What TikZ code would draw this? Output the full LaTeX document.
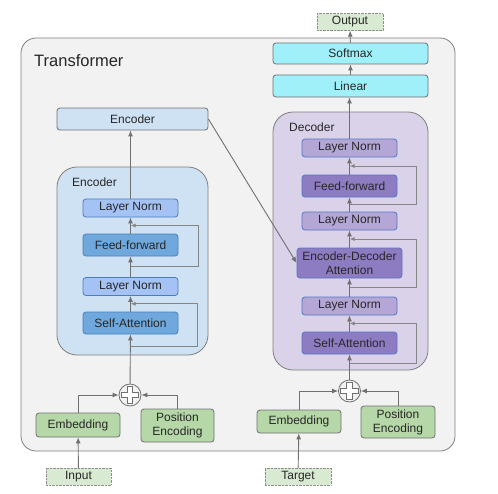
\documentclass[tikz,border=0pt]{standalone}
\usepackage{fontspec}
\setmainfont{Liberation Sans}
\usetikzlibrary{calc,positioning,arrows.meta}
\definecolor{bgray}{HTML}{F2F2F2}
\definecolor{lgray}{HTML}{707070}
\definecolor{encbg}{HTML}{CFE2F3}
\definecolor{encln}{HTML}{A4C2F4}
\definecolor{encop}{HTML}{6FA8DC}
\definecolor{encbd}{HTML}{4A7EBB}
\definecolor{decbg}{HTML}{D9D2E9}
\definecolor{decln}{HTML}{B4A7D6}
\definecolor{decop}{HTML}{8E7CC3}
\definecolor{decbd}{HTML}{5476C4}
\definecolor{cyanbox}{HTML}{9FF0F8}
\definecolor{grnbox}{HTML}{B6D7A8}
\definecolor{iobox}{HTML}{D9EAD3}

\begin{document}
\begin{tikzpicture}[x=1pt,y=-1pt,font=\fontsize{12}{14}\selectfont,
  every node/.style={inner sep=1pt,text=black!85},
  blk/.style={draw=lgray,rounded corners=3pt,line width=0.8pt,minimum width=95pt,minimum height=18pt},
  encln/.style={blk,draw=encbd,fill=encln},
  encop/.style={blk,draw=encbd,fill=encop,minimum height=22pt},
  decln/.style={blk,draw=decbd,fill=decln},
  decop/.style={blk,draw=decbd,fill=decop,minimum height=22pt},
  outblk/.style={blk,fill=cyanbox,minimum width=155pt,minimum height=21pt},
  grn/.style={blk,fill=grnbox,align=center},
  io/.style={draw=lgray!80,densely dotted,fill=iobox,minimum width=65pt,minimum height=17pt},
  addc/.style={circle,draw=lgray,line width=0.8pt,fill=bgray,minimum size=22pt,inner sep=0pt},
  arr/.style={draw=lgray,line width=0.9pt,-{Latex[length=6pt,width=5pt]}},
  res/.style={draw=lgray!85,line width=0.9pt,-{Latex[length=5pt,width=4pt]}}]
  \useasboundingbox (0,0) rectangle (498,493);
  % outer frame
  \draw[lgray!90,fill=bgray,rounded corners=15pt,line width=0.8pt] (21,38) rectangle (455,451);
  \node[anchor=west,font=\fontsize{16.5}{18}\selectfont] (title) at (33,61) {Transformer};

  % encoder side
  \node[blk,fill=encbg,minimum width=151pt,minimum height=22pt] (encTop) at (132.5,119) {Encoder};
  \draw[lgray!90,fill=encbg,rounded corners=20pt,line width=0.8pt] (57,167) rectangle (208,355);
  \node[anchor=west] (encLbl) at (71,182) {Encoder};
  \node[encln] (eLN2) at (130.5,208) {Layer Norm};
  \node[encop] (eFF) at (130.5,245) {Feed-forward};
  \node[encln] (eLN1) at (130.5,286.5) {Layer Norm};
  \node[encop] (eSA) at (130.5,323) {Self-Attention};
  \node[addc] (ePlus) at (130,395) {};
  \node[grn,minimum width=84pt,minimum height=24pt] (eEmb) at (78,425) {Embedding};
  \node[grn,minimum width=73pt,minimum height=33pt] (ePos) at (177.5,425.5) {Position\\Encoding};
  \node[io] (inp) at (78.5,476.5) {Input};

  % decoder side
  \node[io,minimum width=66pt] (out) at (350,22) {Output};
  \node[outblk] (soft) at (350.5,53.5) {Softmax};
  \node[outblk,minimum height=22pt] (lin) at (350.5,86) {Linear};
  \draw[lgray!90,fill=decbg,rounded corners=20pt,line width=0.8pt] (273,112) rectangle (428,370);
  \node[anchor=west] (decLbl) at (288,127) {Decoder};
  \node[decln] (dLN3) at (349.5,148) {Layer Norm};
  \node[decop] (dFF) at (349.5,186) {Feed-forward};
  \node[decln] (dLN2) at (349.5,221) {Layer Norm};
  \node[decop,minimum width=105pt,minimum height=30pt,align=center,font=\fontsize{12}{13.5}\selectfont] (dEDA) at (349.5,263) {Encoder-Decoder\\Attention};
  \node[decln] (dLN1) at (349.5,306) {Layer Norm};
  \node[decop] (dSA) at (349.5,343) {Self-Attention};
  \node[addc] (dPlus) at (349.5,391) {};
  \node[grn,minimum width=84pt,minimum height=23pt] (dEmb) at (299,421.5) {Embedding};
  \node[grn,minimum width=74pt,minimum height=32pt] (dPos) at (398,422) {Position\\Encoding};
  \node[io,minimum width=66pt] (tgt) at (298,476.5) {Target};

  % plus signs
  \foreach \p in {ePlus,dPlus}
    \draw[lgray,fill=white,line width=0.7pt] (\p.center) ++(-2.8,-2.8) -- ++(0,-6) -- ++(5.6,0) -- ++(0,6)
      -- ++(6,0) -- ++(0,5.6) -- ++(-6,0) -- ++(0,6) -- ++(-5.6,0) -- ++(0,-6) -- ++(-6,0) -- ++(0,-5.6) -- cycle;

  % encoder flow
  \draw[arr] (inp) -- (eEmb);
  \draw[arr] (eEmb.north) |- (ePlus.west);
  \draw[arr] (ePos.north) |- (ePlus.east);
  \draw[arr] (ePlus) -- (eSA);
  \draw[arr] (eSA) -- (eLN1);
  \draw[arr] (eLN1) -- (eFF);
  \draw[arr] (eFF) -- (eLN2);
  \draw[arr] (eLN2) -- (eLN2.north |- encTop.south);
  \draw[res] ($(eSA.south)!.5!(ePlus.north)$) ++(0,-13) -- ++(67.5,0) |- ($(eLN1.south)!.5!(eSA.north)$);
  \draw[res] ($(eFF.south)!.5!(eLN1.north)$) -- ++(67.5,0) |- ($(eLN2.south)!.5!(eFF.north)$);

  % decoder flow
  \draw[arr] (tgt) -- (dEmb);
  \draw[arr] (dEmb.north) |- (dPlus.west);
  \draw[arr] (dPos.north) |- (dPlus.east);
  \draw[arr] (dPlus) -- (dSA);
  \draw[arr] (dSA) -- (dLN1);
  \draw[arr] (dLN1) -- (dEDA);
  \draw[arr] (dEDA) -- (dLN2);
  \draw[arr] (dLN2) -- (dFF);
  \draw[arr] (dFF) -- (dLN3);
  \draw[arr] (dLN3) -- (dLN3.north |- lin.south);
  \draw[arr] (lin) -- (soft);
  \draw[arr] (soft) -- (out);
  \draw[res] ($(dSA.south)!.5!(dPlus.north)$) ++(0,-4) -- ++(66.5,0) |- ($(dLN1.south)!.5!(dSA.north)$);
  \draw[res] ($(dEDA.south)!.5!(dLN1.north)$) -- ++(66.5,0) |- ($(dLN2.south)!.5!(dEDA.north)$);
  \draw[res] ($(dFF.south)!.5!(dLN2.north)$) -- ++(66.5,0) |- ($(dLN3.south)!.5!(dFF.north)$);

  % encoder output into decoder
  \draw[arr] (encTop.east) -- (dEDA.west);
\end{tikzpicture}
\end{document}
